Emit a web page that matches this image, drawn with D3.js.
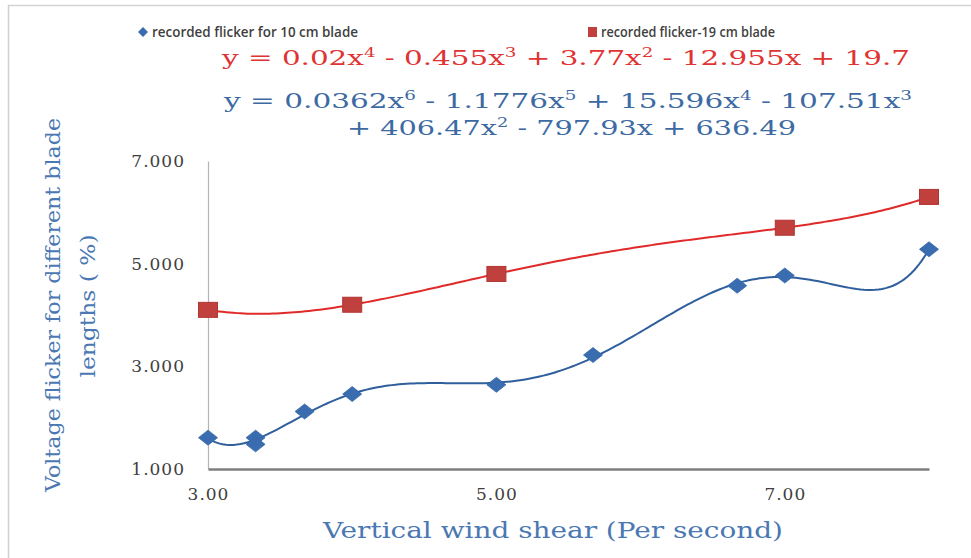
<!DOCTYPE html>
<html>
<head>
<meta charset="utf-8">
<script src="https://cdn.jsdelivr.net/npm/d3@7"></script>
<style>
  body { margin: 0; background: #fff; }
  svg { display: block; }
</style>
</head>
<body>
<script>
// wind shear (per second) vs recorded flicker (%)
const blueName = "recorded flicker for 10 cm blade";
const blueX = [3.00, 3.33, 3.33, 3.67, 4.00, 5.00, 5.67, 6.67, 7.00, 8.00];
const blueY = [1.61, 1.61, 1.48, 2.12, 2.46, 2.64, 3.22, 4.57, 4.77, 5.28];
const blueCoef = [0.0362, -1.1776, 15.596, -107.51, 406.47, -797.93, 636.49];

const redName = "recorded flicker-19 cm blade";
const redX = [3, 4, 5, 7, 8];
const redY = [4.1, 4.2, 4.8, 5.7, 6.3];
const redCoef = [0.02, -0.455, 3.77, -12.955, 19.7];

const xTicks = [3, 5, 7];
const yTicks = [1, 3, 5, 7];
const xTitle = "Vertical wind shear (Per second)";
const yTitle = ["Voltage flicker for different blade", "lengths ( %)"];

const width = 971, height = 558;
const blue = "#3a6db0", blueLine = "#2f5f9c", red = "#e02a2a", redMark = "#c0403d";
const axisBlue = "#4a78b2";

const x = d3.scaleLinear().domain([3, 8]).range([208, 929]);
const y = d3.scaleLinear().domain([1, 7]).range([469, 161]);

const svg = d3.select("body").append("svg")
    .attr("width", width)
    .attr("height", height);

// frame edges (only top and left visible)
svg.append("line").attr("x1", 8).attr("x2", width).attr("y1", 5.5).attr("y2", 5.5)
    .attr("stroke", "#d4d4d4").attr("stroke-width", 1.5);
svg.append("line").attr("x1", 8.5).attr("x2", 8.5).attr("y1", 5).attr("y2", height)
    .attr("stroke", "#cfcfcf").attr("stroke-width", 1.5);

// axes
const yAxis = svg.append("g")
    .attr("transform", `translate(${x(3)},0)`)
    .call(d3.axisLeft(y).tickValues(yTicks).tickSize(0).tickPadding(23).tickFormat(d3.format(".3f")));
yAxis.select(".domain").attr("stroke", "#b4b4b4").attr("stroke-width", 1.2);

const xAxis = svg.append("g")
    .attr("transform", `translate(0,${y(1)})`)
    .call(d3.axisBottom(x).tickValues(xTicks).tickSize(0).tickPadding(19).tickFormat(d3.format(".2f")));
xAxis.select(".domain").attr("stroke", "#7f7f7f").attr("stroke-width", 2.5);

svg.selectAll(".tick text")
    .attr("fill", "#404040")
    .attr("font-family", "DejaVu Serif")
    .attr("font-size", 17)
    .attr("letter-spacing", 1);

// least squares polynomial fit (like the spreadsheet trendline), x scaled for stability
function polyfit(xs, ys, deg) {
  const t = v => (v - 5.5) / 2.5;
  const n = deg + 1;
  const A = Array.from({length: n}, () => new Array(n + 1).fill(0));
  xs.forEach((xv, k) => {
    const tv = t(xv);
    for (let i = 0; i < n; i++) {
      for (let j = 0; j < n; j++) A[i][j] += Math.pow(tv, i + j);
      A[i][n] += ys[k] * Math.pow(tv, i);
    }
  });
  for (let c = 0; c < n; c++) {
    let p = c;
    for (let r = c + 1; r < n; r++) if (Math.abs(A[r][c]) > Math.abs(A[p][c])) p = r;
    [A[c], A[p]] = [A[p], A[c]];
    for (let r = 0; r < n; r++) {
      if (r === c) continue;
      const f = A[r][c] / A[c][c];
      for (let j = c; j <= n; j++) A[r][j] -= f * A[c][j];
    }
  }
  const b = A.map((row, i) => row[n] / row[i]);
  return v => b.reduce((s, bi, i) => s + bi * Math.pow(t(v), i), 0);
}

const line = d3.line().x(d => x(d[0])).y(d => y(d[1])).curve(d3.curveLinear);

function trend(xs, ys, deg) {
  const f = polyfit(xs, ys, deg);
  const lo = d3.min(xs), hi = d3.max(xs);
  return d3.range(0, 201).map(i => {
    const v = lo + (hi - lo) * i / 200;
    return [v, f(v)];
  });
}

svg.append("path")
    .attr("d", line(trend(redX, redY, redCoef.length - 1)))
    .attr("fill", "none").attr("stroke", red).attr("stroke-width", 2);

svg.append("path")
    .attr("d", line(trend(blueX, blueY, blueCoef.length - 1)))
    .attr("fill", "none").attr("stroke", blueLine).attr("stroke-width", 2);

// markers
svg.append("g").selectAll("rect")
  .data(d3.zip(redX, redY))
  .join("rect")
    .attr("x", d => x(d[0]) - 9.5)
    .attr("y", d => y(d[1]) - 7.5)
    .attr("width", 19).attr("height", 15)
    .attr("fill", redMark).attr("stroke", "#b03532").attr("stroke-width", 1);

const diamond = (cx, cy, w, h) => `M${cx},${cy - h / 2}L${cx + w / 2},${cy}L${cx},${cy + h / 2}L${cx - w / 2},${cy}Z`;

svg.append("g").selectAll("path")
  .data(d3.zip(blueX, blueY))
  .join("path")
    .attr("d", d => diamond(x(d[0]), y(d[1]), 19, 15))
    .attr("fill", blue).attr("stroke", "#3466a8").attr("stroke-width", 0.8);

// legend
const legend = svg.append("g")
    .attr("font-family", "Open Sans, Liberation Sans, sans-serif")
    .attr("font-size", 14)
    .attr("font-weight", 600)
    .attr("fill", "#3f3f3f");
legend.append("path").attr("d", diamond(143, 32, 10, 10)).attr("fill", blue);
legend.append("text").attr("x", 152).attr("y", 37)
    .attr("textLength", 206).attr("lengthAdjust", "spacingAndGlyphs")
    .text(blueName);
legend.append("rect").attr("x", 588).attr("y", 27).attr("width", 9).attr("height", 10).attr("fill", redMark);
legend.append("text").attr("x", 601).attr("y", 37)
    .attr("textLength", 174).attr("lengthAdjust", "spacingAndGlyphs")
    .text(redName);

// trendline equations, built from the coefficient arrays
function terms(coef) {
  const deg = coef.length - 1;
  return coef.map((c, i) => {
    const p = deg - i;
    const sign = i === 0 ? (c < 0 ? "-" : "") : (c < 0 ? " - " : " + ");
    const body = sign + Math.abs(c) + (p > 0 ? "x" : "");
    return {body, sup: p > 1 ? String(p) : ""};
  });
}

function equation(parts, xs, ys, len, color, lead) {
  const t = svg.append("text")
      .attr("x", xs).attr("y", ys)
      .attr("font-family", "DejaVu Serif")
      .attr("font-size", 21)
      .attr("fill", color)
      .attr("textLength", len)
      .attr("lengthAdjust", "spacingAndGlyphs");
  let raised = false;
  parts.forEach((p, i) => {
    t.append("tspan").attr("dy", raised ? 8 : 0).text((i === 0 ? lead : "") + p.body);
    raised = false;
    if (p.sup) {
      t.append("tspan").attr("dy", -8).attr("font-size", 13).text(p.sup);
      raised = true;
    }
  });
}

const redTerms = terms(redCoef);
equation(redTerms, 222, 65, 688, "#e03434", "y = ");

const blueTerms = terms(blueCoef);
equation(blueTerms.slice(0, 4), 224, 108, 688, "#3d6aa3", "y = ");
const blueTail = blueTerms.slice(4).map((p, i) => i === 0 ? {body: p.body.trim(), sup: p.sup} : p);
equation(blueTail, 347, 135, 449, "#3d6aa3", "");

// axis titles
svg.append("text")
    .attr("x", 323).attr("y", 538)
    .attr("font-family", "DejaVu Serif")
    .attr("font-size", 22)
    .attr("fill", axisBlue)
    .attr("textLength", 460).attr("lengthAdjust", "spacingAndGlyphs")
    .text(xTitle);

const yt = svg.append("g")
    .attr("font-family", "DejaVu Serif")
    .attr("font-size", 21)
    .attr("fill", axisBlue)
    .attr("text-anchor", "middle");
yt.append("text")
    .attr("transform", "translate(60,305) rotate(-90)")
    .attr("textLength", 374).attr("lengthAdjust", "spacingAndGlyphs")
    .text(yTitle[0]);
yt.append("text")
    .attr("transform", "translate(95,306) rotate(-90)")
    .attr("textLength", 143).attr("lengthAdjust", "spacingAndGlyphs")
    .text(yTitle[1]);
</script>
</body>
</html>
